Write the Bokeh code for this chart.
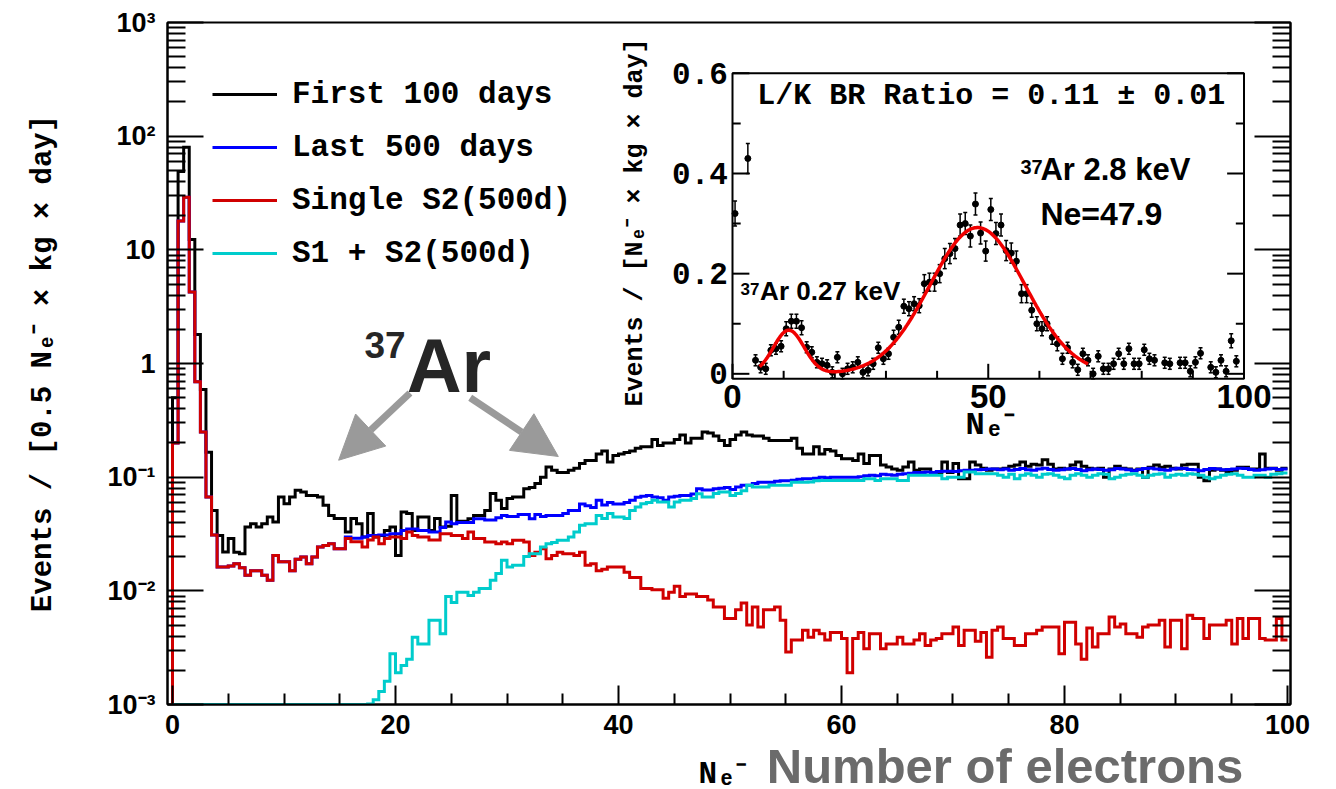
import numpy as np
from bokeh.plotting import figure
from bokeh.layouts import column
from bokeh.models import (Range1d, LinearScale, LogAxis, FixedTicker, Legend,
                          LegendItem, Label, Arrow, NormalHead)
from bokeh.core.properties import value
from bokeh.embed import file_html
from bokeh.resources import INLINE

# ------------------------------------------------------------------ data
bin_width = 0.5  # N_e- per bin

first_100_days = [
    0.5, 49, 80, 12.3, 1.8, 0.59, 0.166, 0.051, 0.0307, 0.022,
    0.0288, 0.0219, 0.0212, 0.0364, 0.039, 0.0364, 0.039, 0.0447, 0.0403, 0.0668,
    0.0585, 0.0668, 0.0766, 0.074, 0.069, 0.069, 0.0668, 0.0565, 0.0461, 0.0432,
    0.0432, 0.0329, 0.0432, 0.039, 0.0297, 0.0478, 0.0297, 0.0307, 0.034, 0.0364,
    0.0205, 0.0493, 0.0478, 0.034, 0.0447, 0.0447, 0.034, 0.0432, 0.0364, 0.037,
    0.069, 0.041, 0.041, 0.043, 0.046, 0.046, 0.051, 0.072, 0.0625, 0.053,
    0.065, 0.067, 0.067, 0.079, 0.081, 0.088, 0.1, 0.123, 0.115, 0.11,
    0.11, 0.115, 0.12, 0.132, 0.14, 0.14, 0.16, 0.17, 0.136, 0.155,
    0.16, 0.165, 0.17, 0.18, 0.185, 0.185, 0.215, 0.19, 0.2, 0.2,
    0.215, 0.235, 0.2, 0.22, 0.22, 0.25, 0.245, 0.23, 0.21, 0.19,
    0.215, 0.235, 0.25, 0.235, 0.23, 0.23, 0.22, 0.21, 0.21, 0.21,
    0.21, 0.22, 0.18, 0.16, 0.16, 0.185, 0.16, 0.175, 0.17, 0.155,
    0.145, 0.145, 0.14, 0.16, 0.132, 0.155, 0.155, 0.128, 0.123, 0.118,
    0.115, 0.123, 0.136, 0.115, 0.118, 0.118, 0.11, 0.11, 0.136, 0.11,
    0.132, 0.097, 0.097, 0.136, 0.128, 0.12, 0.115, 0.118, 0.118, 0.12,
    0.125, 0.128, 0.136, 0.125, 0.13, 0.128, 0.142, 0.13, 0.118, 0.12,
    0.118, 0.128, 0.136, 0.125, 0.12, 0.118, 0.12, 0.1, 0.118, 0.125,
    0.12, 0.118, 0.115, 0.118, 0.1, 0.122, 0.128, 0.122, 0.125, 0.12,
    0.118, 0.128, 0.13, 0.13, 0.1, 0.093, 0.115, 0.118, 0.115, 0.11,
    0.115, 0.122, 0.122, 0.118, 0.118, 0.16, 0.12, 0.12, 0.115, 0.12,
]

last_500_days = [
    0.2, 17.9, 29, 4.25, 0.69, 0.25, 0.067, 0.031, 0.0162, 0.0162,
    0.0165, 0.0173, 0.016, 0.0137, 0.015, 0.015, 0.0137, 0.0124, 0.0205, 0.018,
    0.018, 0.015, 0.019, 0.0198, 0.0173, 0.0198, 0.0243, 0.025, 0.026, 0.0234,
    0.0234, 0.0297, 0.029, 0.029, 0.0297, 0.0307, 0.0307, 0.031, 0.031, 0.0318,
    0.0318, 0.034, 0.035, 0.035, 0.034, 0.034, 0.033, 0.033, 0.036, 0.0403,
    0.039, 0.04, 0.04, 0.04, 0.043, 0.043, 0.042, 0.042, 0.044, 0.046,
    0.045, 0.045, 0.047, 0.047, 0.043, 0.047, 0.045, 0.046, 0.046, 0.046,
    0.048, 0.051, 0.051, 0.058, 0.056, 0.054, 0.0625, 0.057, 0.06, 0.058,
    0.058, 0.06, 0.0625, 0.0667, 0.068, 0.069, 0.067, 0.066, 0.0625, 0.067,
    0.068, 0.069, 0.069, 0.071, 0.079, 0.077, 0.077, 0.079, 0.08, 0.081,
    0.078, 0.082, 0.085, 0.085, 0.088, 0.09, 0.09, 0.09, 0.092, 0.093,
    0.093, 0.094, 0.096, 0.097, 0.097, 0.098, 0.1, 0.099, 0.1, 0.1,
    0.1, 0.1, 0.1, 0.101, 0.103, 0.104, 0.103, 0.106, 0.105, 0.104,
    0.106, 0.107, 0.108, 0.11, 0.11, 0.111, 0.11, 0.112, 0.113, 0.113,
    0.112, 0.114, 0.115, 0.115, 0.116, 0.117, 0.118, 0.118, 0.116, 0.118,
    0.115, 0.117, 0.119, 0.116, 0.115, 0.118, 0.12, 0.117, 0.115, 0.116,
    0.118, 0.119, 0.117, 0.114, 0.116, 0.118, 0.117, 0.115, 0.116, 0.119,
    0.118, 0.116, 0.114, 0.117, 0.119, 0.12, 0.118, 0.116, 0.115, 0.118,
    0.12, 0.119, 0.117, 0.116, 0.114, 0.117, 0.119, 0.118, 0.116, 0.117,
    0.118, 0.12, 0.119, 0.117, 0.115, 0.116, 0.118, 0.119, 0.117, 0.118,
]

single_s2_500d = [
    0.2, 17.9, 29, 4.25, 0.69, 0.25, 0.067, 0.031, 0.0162, 0.0162,
    0.0165, 0.0173, 0.016, 0.0137, 0.015, 0.015, 0.0137, 0.0124, 0.0205, 0.018,
    0.018, 0.015, 0.019, 0.0198, 0.0173, 0.0198, 0.0243, 0.025, 0.026, 0.0234,
    0.0234, 0.0288, 0.027, 0.027, 0.0243, 0.028, 0.0297, 0.026, 0.0288, 0.0297,
    0.0297, 0.0288, 0.0329, 0.0307, 0.0297, 0.0297, 0.028, 0.028, 0.0318, 0.0318,
    0.0307, 0.0307, 0.0288, 0.033, 0.0288, 0.0288, 0.0269, 0.0269, 0.026, 0.0269,
    0.026, 0.0278, 0.0278, 0.0269, 0.0205, 0.0219, 0.0234, 0.0192, 0.0205, 0.0219,
    0.0212, 0.0212, 0.0205, 0.0219, 0.0168, 0.0173, 0.015, 0.0155, 0.0162, 0.0162,
    0.0162, 0.0146, 0.0131, 0.0131, 0.0105, 0.0105, 0.0102, 0.0102, 0.0086, 0.0097,
    0.011, 0.0089, 0.0094, 0.0094, 0.0089, 0.0089, 0.0083, 0.0072, 0.0072, 0.0057,
    0.0057, 0.0068, 0.0078, 0.005, 0.0072, 0.0048, 0.0068, 0.0068, 0.0072, 0.0055,
    0.0029, 0.0037, 0.0037, 0.0045, 0.0039, 0.0045, 0.0042, 0.0037, 0.0043, 0.0043,
    0.0038, 0.0019, 0.0038, 0.0043, 0.0031, 0.0042, 0.0042, 0.0031, 0.0034, 0.0034,
    0.0039, 0.0034, 0.0034, 0.0037, 0.0042, 0.0033, 0.0037, 0.0038, 0.0042, 0.0042,
    0.0048, 0.0033, 0.0045, 0.0045, 0.0036, 0.0043, 0.0026, 0.0045, 0.0048, 0.0038,
    0.0038, 0.0033, 0.0033, 0.0042, 0.0042, 0.0045, 0.0048, 0.0048, 0.0048, 0.0028,
    0.0053, 0.0053, 0.0034, 0.0025, 0.0047, 0.0032, 0.0042, 0.0042, 0.0059, 0.0048,
    0.0051, 0.0042, 0.0042, 0.0039, 0.0048, 0.005, 0.005, 0.0055, 0.0032, 0.0055,
    0.0055, 0.0031, 0.0061, 0.0057, 0.0057, 0.0038, 0.005, 0.005, 0.005, 0.0055,
    0.0034, 0.0057, 0.0038, 0.0057, 0.0057, 0.0038, 0.0037, 0.0037, 0.0057, 0.0037,
]

s1_s2_500d = [
    0.001, 0.001, 0.001, 0.001, 0.001, 0.001, 0.001, 0.001, 0.001, 0.001,
    0.001, 0.001, 0.001, 0.001, 0.001, 0.001, 0.001, 0.001, 0.001, 0.001,
    0.001, 0.001, 0.001, 0.001, 0.001, 0.001, 0.001, 0.001, 0.001, 0.001,
    0.001, 0.001, 0.001, 0.001, 0.001, 0.00101, 0.0011, 0.0013, 0.0016, 0.0028,
    0.0019, 0.0022, 0.0025, 0.0039, 0.0034, 0.0034, 0.0055, 0.0055, 0.0042, 0.0089,
    0.0079, 0.0097, 0.0097, 0.0091, 0.0097, 0.0105, 0.0105, 0.0124, 0.0142, 0.0186,
    0.0162, 0.0168, 0.0168, 0.02, 0.0212, 0.0212, 0.0243, 0.026, 0.0266, 0.0278,
    0.0278, 0.0297, 0.033, 0.0377, 0.039, 0.039, 0.046, 0.0432, 0.0478, 0.0447,
    0.0447, 0.0432, 0.051, 0.0546, 0.0585, 0.06, 0.0625, 0.0605, 0.0605, 0.0546,
    0.0605, 0.0625, 0.0625, 0.065, 0.0716, 0.067, 0.067, 0.072, 0.074, 0.074,
    0.069, 0.072, 0.076, 0.0847, 0.082, 0.082, 0.082, 0.0847, 0.0847, 0.0847,
    0.0847, 0.09, 0.09, 0.09, 0.0906, 0.093, 0.0937, 0.0937, 0.0937, 0.0937,
    0.0937, 0.0937, 0.0937, 0.0937, 0.097, 0.097, 0.0937, 0.097, 0.097, 0.097,
    0.0937, 0.0937, 0.1037, 0.1037, 0.1037, 0.1037, 0.1037, 0.1037, 0.097, 0.1,
    0.1, 0.1, 0.111, 0.111, 0.107, 0.107, 0.107, 0.107, 0.104, 0.1,
    0.106, 0.097, 0.104, 0.107, 0.104, 0.1, 0.106, 0.107, 0.104, 0.1,
    0.097, 0.104, 0.107, 0.104, 0.1, 0.104, 0.107, 0.106, 0.097, 0.1,
    0.104, 0.106, 0.107, 0.104, 0.1, 0.104, 0.106, 0.107, 0.1, 0.104,
    0.106, 0.104, 0.107, 0.106, 0.104, 0.1, 0.097, 0.1, 0.104, 0.106,
    0.107, 0.104, 0.1, 0.1, 0.104, 0.104, 0.1, 0.106, 0.107, 0.109,
]

series_names = ["First 100 days", "Last 500 days", "Single S2(500d)", "S1 + S2(500d)"]

x_major_ticks = [0, 20, 40, 60, 80, 100]
x_minor_ticks = [5, 10, 15, 25, 30, 35, 45, 50, 55, 65, 70, 75, 85, 90, 95]
y_major_ticks = [0.001, 0.01, 0.1, 1, 10, 100, 1000]
y_tick_labels = ["10⁻³", "10⁻²", "10⁻¹", "1", "10", "10²", "10³"]
y_minor_ticks = [0.002, 0.003, 0.004, 0.005, 0.006, 0.007, 0.008, 0.009,
                 0.02, 0.03, 0.04, 0.05, 0.06, 0.07, 0.08, 0.09,
                 0.2, 0.3, 0.4, 0.5, 0.6, 0.7, 0.8, 0.9,
                 2, 3, 4, 5, 6, 7, 8, 9,
                 20, 30, 40, 50, 60, 70, 80, 90,
                 200, 300, 400, 500, 600, 700, 800, 900]

# inset: rate per N_e- (1 N_e- bins) with error bars
inset_ne = [0.5, 3.0, 4.5, 5.5, 6.5, 7.5, 8.5, 9.5, 10.5, 11.5, 12.5, 13.5, 14.5, 15.5,
            16.5, 17.5, 18.5, 19.5, 20.5, 21.5, 22.5, 23.5, 24.5, 25.5, 26.5, 27.5, 28.5,
            29.5, 30.5, 31.5, 32.5, 33.5, 34.5, 35.5, 36.5, 37.5, 38.5, 39.5, 40.5, 41.5,
            42.5, 43.5, 44.5, 45.5, 46.5, 47.5, 48.5, 49.5, 50.5, 51.5, 52.5, 53.5, 54.5,
            55.5, 56.5, 57.5, 58.5, 59.5, 60.5, 61.5, 62.5, 63.5, 64.5, 65.5, 66.5, 67.5,
            68.5, 69.5, 70.5, 71.5, 72.5, 73.5, 74.5, 75.5, 76.5, 77.5, 78.5, 79.5, 80.5,
            81.5, 82.5, 84.5, 85.5, 87.5, 88.5, 89.5, 90.5, 91.5, 93.5, 94.5, 95.5, 96.5,
            97.5, 98.5]
inset_rate = [0.32, 0.43,
              0.027, 0.013, 0.010, 0.047, 0.050, 0.055, 0.090, 0.105, 0.105, 0.092,
              0.053, 0.043, 0.023, 0.020, 0.017, 0.003, 0.033, 0.000, 0.010, 0.013,
              0.023, 0.003, 0.007, 0.020, 0.052, 0.030,
              0.040, 0.073, 0.093, 0.135, 0.130, 0.140, 0.136, 0.180, 0.183, 0.183,
              0.200, 0.230, 0.240, 0.250, 0.297, 0.300, 0.275, 0.339, 0.281, 0.245,
              0.328, 0.280, 0.297, 0.246, 0.241, 0.225, 0.160, 0.160, 0.127, 0.100,
              0.090, 0.100, 0.073, 0.060, 0.030, 0.052, 0.023, 0.008, 0.040, 0.027,
              0.000, 0.035,
              0.010, 0.010, 0.020, 0.040, 0.020, 0.050, 0.020, 0.020, 0.048, 0.030, 0.027,
              0.022, 0.020,
              0.022, 0.022, 0.005, 0.023, 0.041,
              0.013, 0.003, 0.027, 0.005, 0.066, 0.025]
inset_err = [0.025, 0.03,
             0.011, 0.011, 0.011, 0.011, 0.011, 0.011, 0.014, 0.014, 0.014, 0.014,
             0.011, 0.011, 0.011, 0.011, 0.011, 0.011, 0.011, 0.011, 0.011, 0.011,
             0.011, 0.011, 0.011, 0.011, 0.011, 0.011,
             0.011, 0.014, 0.014, 0.014, 0.014, 0.014, 0.014, 0.018, 0.018, 0.018,
             0.018, 0.02, 0.02, 0.02, 0.022, 0.022, 0.022, 0.022, 0.022, 0.02,
             0.022, 0.022, 0.022, 0.02, 0.02, 0.02, 0.018, 0.018, 0.014, 0.014,
             0.014, 0.014, 0.014, 0.014, 0.011, 0.011, 0.011, 0.011, 0.011, 0.011,
             0.011, 0.011,
             0.011, 0.011, 0.011, 0.011, 0.011, 0.011, 0.011, 0.011, 0.011, 0.011, 0.011,
             0.011, 0.011,
             0.011, 0.011, 0.011, 0.011, 0.011,
             0.011, 0.011, 0.011, 0.011, 0.014, 0.011]

# double-gaussian fit: [amplitude, mean, sigma]
fit_l_peak = [0.087, 11.0, 3.0]
fit_k_peak = [0.292, 47.9, 9.3]
fit_range = [5.3, 69.5]

inset_xlim = [0, 100]
inset_ylim = [-0.01, 0.6]
inset_x_major = [0, 50, 100]
inset_x_labels = ["0", "50", "100"]
inset_x_minor = [10, 20, 30, 40, 60, 70, 80, 90]
inset_y_major = [0, 0.2, 0.4, 0.6]
inset_y_labels = ["0", "0.2", "0.4", "0.6"]
inset_y_minor = [0.1, 0.3, 0.5]

X_RANGE = (-0.45, 100.27)

# ------------------------------------------------------------------ main figure
p = figure(width=1336, height=746,
           x_range=Range1d(*X_RANGE), y_range=Range1d(1e-3, 1e3),
           y_axis_type="log", output_backend="svg", toolbar_location=None,
           min_border_left=167, min_border_right=46, min_border_top=22,
           min_border_bottom=42)
p.extra_x_ranges = {"ix": Range1d(-110.46, 109.09)}
p.extra_y_ranges = {"iy": Range1d(-0.6603, 0.7015)}
p.extra_y_scales = {"iy": LinearScale()}
p.grid.visible = False
p.outline_line_color = "black"
p.outline_line_width = 2
p.background_fill_color = "white"
p.border_fill_color = "white"


def outline(vals, floor=1e-3):
    edges = np.arange(len(vals) + 1) * bin_width
    xs = np.concatenate([[edges[0]], np.repeat(edges, 2)[1:-1]])
    ys = np.concatenate([[floor], np.repeat(np.asarray(vals, float), 2)])
    return xs, ys


colors = ["#000000", "#0000ff", "#d00000", "#00cccc"]
renderers = []
for vals, col in zip([first_100_days, last_500_days, single_s2_500d, s1_s2_500d], colors):
    xs, ys = outline(vals)
    renderers.append(p.line(xs, ys, line_color=col, line_width=3, line_join="miter"))

legend = Legend(items=[LegendItem(label=n, renderers=[r]) for n, r in zip(series_names, renderers)],
                location=(45, 431), glyph_width=65, glyph_height=40, label_height=40,
                spacing=13, label_standoff=15, padding=0, margin=0,
                border_line_alpha=0, background_fill_alpha=0,
                label_text_font="Liberation Mono", label_text_font_style="bold",
                label_text_font_size="31px", label_text_color="black")
p.add_layout(legend)

# axes
for ax in (p.xaxis[0], p.yaxis[0]):
    ax.axis_line_width = 2
    ax.major_tick_line_width = 2
    ax.minor_tick_line_width = 2
    ax.major_tick_out = 0
    ax.minor_tick_out = 0
    ax.major_label_text_font = "Liberation Sans"
    ax.major_label_text_font_style = "bold"
    ax.major_label_text_font_size = "27px"
    ax.major_label_text_color = "black"
    ax.major_label_standoff = 12
    ax.axis_label_text_font = "Liberation Mono"
    ax.axis_label_text_font_style = "bold"
    ax.axis_label_text_color = "black"

p.xaxis.ticker = FixedTicker(ticks=x_major_ticks, minor_ticks=x_minor_ticks)
p.xaxis.major_tick_in = 19
p.xaxis.minor_tick_in = 11
p.xaxis.major_label_standoff = 10

p.yaxis.ticker = FixedTicker(ticks=y_major_ticks, minor_ticks=y_minor_ticks)
p.yaxis.major_label_overrides = dict(zip(y_major_ticks, y_tick_labels))
p.yaxis.major_tick_in = 36
p.yaxis.minor_tick_in = 18
p.yaxis.axis_label = "Events / [0.5 Nₑ⁻ × kg × day]"
p.yaxis.axis_label_text_font_size = "29px"
p.yaxis.axis_label_standoff = 44

right_axis = LogAxis(ticker=FixedTicker(ticks=y_major_ticks, minor_ticks=y_minor_ticks),
                     major_label_text_font_size="2px", major_label_text_alpha=0,
                     major_label_standoff=0,
                     major_tick_in=36, major_tick_out=0, minor_tick_in=18, minor_tick_out=0,
                     axis_line_width=2, major_tick_line_width=2, minor_tick_line_width=2)
p.add_layout(right_axis, "right")

# annotations on the main panel (text anchored at the bottom of its box)
p.add_layout(Label(x=17.22, y=1.12, text="37", text_font="Liberation Sans",
                   text_font_style="bold", text_font_size="37px", text_color="#262626"))
p.add_layout(Label(x=21.0, y=0.403, text="Ar", text_font="Liberation Sans",
                   text_font_style="bold", text_font_size="76px", text_color="#262626"))
arrow_col = "#9a9a9a"
p.add_layout(Arrow(x_start=21.3, y_start=0.55, x_end=14.9, y_end=0.141,
                   line_color=arrow_col, line_width=7,
                   end=NormalHead(size=44, fill_color=arrow_col, line_color=arrow_col)))
p.add_layout(Arrow(x_start=26.7, y_start=0.50, x_end=34.6, y_end=0.152,
                   line_color=arrow_col, line_width=7,
                   end=NormalHead(size=44, fill_color=arrow_col, line_color=arrow_col)))

# ------------------------------------------------------------------ inset
IR = dict(x_range_name="ix", y_range_name="iy")
ix0, ix1 = inset_xlim
iy0, iy1 = inset_ylim
p.quad(left=[ix0], right=[ix1], bottom=[iy0], top=[iy1], fill_color=None,
       line_color="black", line_width=2, **IR)

yt = inset_y_major + inset_y_minor
ylen = [3.3] * len(inset_y_major) + [1.6] * len(inset_y_minor)
p.segment(x0=[ix0] * len(yt), y0=yt, x1=[ix0 + l for l in ylen], y1=yt,
          line_color="black", line_width=2, **IR)
p.segment(x0=[ix1] * len(yt), y0=yt, x1=[ix1 - l for l in ylen], y1=yt,
          line_color="black", line_width=2, **IR)
xt = inset_x_major + inset_x_minor
xlen = [0.03] * len(inset_x_major) + [0.016] * len(inset_x_minor)
p.segment(x0=xt, y0=[iy0] * len(xt), x1=xt, y1=[iy0 + l for l in xlen],
          line_color="black", line_width=2, **IR)

p.text(x=[-0.9] * len(inset_y_major), y=inset_y_major, text=inset_y_labels,
       text_align="right", text_baseline="middle", text_font=value("Liberation Mono"),
       text_font_style="bold", text_font_size="31px", text_color="black", **IR)
p.text(x=inset_x_major, y=[-0.045] * len(inset_x_major), text=inset_x_labels,
       text_align="center", text_baseline="middle", text_font=value("Liberation Sans"),
       text_font_style="bold", text_font_size="33px", text_color="black", **IR)

p.add_layout(Label(x=50.4, y=-0.103, text="Nₑ⁻", text_align="center", text_baseline="middle",
                   text_font="Liberation Mono", text_font_style="bold", text_font_size="32px",
                   text_color="black", **IR))
p.add_layout(Label(x=-18.96, y=0.302, text="Events / [Nₑ⁻ × kg × day]", angle=np.pi / 2,
                   text_align="center", text_baseline="middle", text_font="Liberation Mono",
                   text_font_style="bold", text_font_size="25px", text_color="black", **IR))

lo = [max(r - e, iy0) for r, e in zip(inset_rate, inset_err)]
hi = [r + e for r, e in zip(inset_rate, inset_err)]
p.segment(x0=inset_ne, y0=lo, x1=inset_ne, y1=hi, line_color="black", line_width=1.5, **IR)
p.scatter(x=inset_ne + inset_ne, y=lo + hi, marker="dash", size=4, line_color="black",
          line_width=1.5, **IR)
p.scatter(x=inset_ne, y=inset_rate, marker="circle", size=6, fill_color="black",
          line_color="black", **IR)

fx = np.linspace(fit_range[0], fit_range[1], 300)
fy = (fit_l_peak[0] * np.exp(-0.5 * ((fx - fit_l_peak[1]) / fit_l_peak[2]) ** 2)
      + fit_k_peak[0] * np.exp(-0.5 * ((fx - fit_k_peak[1]) / fit_k_peak[2]) ** 2))
p.line(fx, fy, line_color="#f00000", line_width=3.5, **IR)

txt = dict(text_font="Liberation Sans", text_font_style="bold", text_color="black", **IR)
p.add_layout(Label(x=50.6, y=0.52, text="L/K BR Ratio = 0.11 ± 0.01", text_align="center",
                   text_font="Liberation Mono", text_font_style="bold", text_font_size="30px",
                   text_color="black", **IR))
p.add_layout(Label(x=56.3, y=0.398, text="37", text_font_size="20px", **txt))
p.add_layout(Label(x=60.2, y=0.373, text="Ar 2.8 keV", text_font_size="31px", **txt))
p.add_layout(Label(x=60.2, y=0.284, text="Ne=47.9", text_font_size="32px", **txt))
p.add_layout(Label(x=1.56, y=0.158, text="37", text_font_size="17px", **txt))
p.add_layout(Label(x=5.4, y=0.136, text="Ar 0.27 keV", text_font_size="26px", **txt))

# ------------------------------------------------------------------ bottom strip: x title + caption
# (its frame is aligned with the main frame by the column layout, so it shares the N_e- scale)
strip = figure(width=1336, height=43, x_range=Range1d(*X_RANGE), y_range=Range1d(0, 43),
               output_backend="svg", toolbar_location=None,
               x_axis_location=None, y_axis_location=None,
               min_border=0, min_border_left=167, min_border_right=46,
               min_border_top=0, min_border_bottom=0)
strip.grid.visible = False
strip.outline_line_color = None
strip.background_fill_color = "white"
strip.border_fill_color = "white"
strip.add_layout(Label(x=49.3, y=-2.3, text="Nₑ⁻", text_align="center",
                       text_font="Liberation Mono", text_font_style="bold",
                       text_font_size="31px", text_color="black"))
strip.add_layout(Label(x=53.3, y=-3.4, text="Number of electrons",
                       text_font="Liberation Sans", text_font_style="bold",
                       text_font_size="49px", text_color="#6b6b6b"))

layout = column(p, strip, spacing=0)
open("out.html", "w").write(file_html(layout, INLINE))
